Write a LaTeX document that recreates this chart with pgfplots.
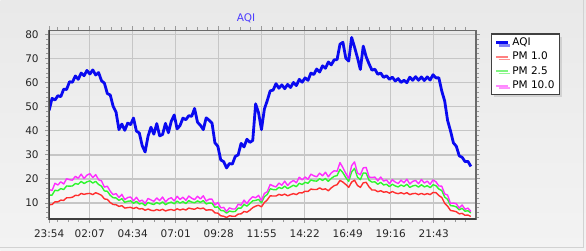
\documentclass[border=0pt]{standalone}
\usepackage{pgfplots}
\pgfplotsset{compat=1.18}
\usepackage{pgfplotstable}
\usepackage{fontspec}
\setmainfont{DejaVu Sans}
\usetikzlibrary{shadows}
\definecolor{aqiblue}{HTML}{0A0AF0}
\definecolor{pmred}{HTML}{FF2E2E}
\definecolor{pmgreen}{HTML}{2EF52E}
\definecolor{pmmag}{HTML}{FF2EFF}
\definecolor{lgred}{HTML}{FF8080}
\definecolor{lggreen}{HTML}{80F580}
\definecolor{lgmag}{HTML}{FF88FF}
\definecolor{titleblue}{HTML}{4B3BFF}
\definecolor{gridc}{HTML}{C6C6C6}
\definecolor{framec}{HTML}{6A6A6A}
\definecolor{outtop}{HTML}{E9E9E9}
\definecolor{outbot}{HTML}{F3F3F3}
\definecolor{intop}{HTML}{E8E8E8}
\definecolor{inbot}{HTML}{F8F8F8}
\pgfplotstableread{
t aqi pm1 pm25 pm10
0 48.5 9.3 13.3 15.6
10 53.5 9.4 13.3 15.2
20 52.8 10.5 15.3 18.2
30 54.6 10.5 15.1 17.5
40 54.2 11.2 16.0 18.8
50 57.3 11.1 15.6 17.9
60 57.2 12.2 17.1 20.1
70 60.4 12.2 17.0 19.7
80 60.2 12.4 17.1 19.5
90 62.8 13.2 18.1 21.1
100 61.4 13.1 17.8 20.3
110 64.0 14.0 19.0 22.0
120 62.9 13.6 18.1 20.2
130 65.1 13.9 18.8 21.6
140 63.6 14.0 19.2 22.2
150 65.3 13.5 18.3 20.6
160 63.2 14.3 19.0 21.8
170 64.2 13.8 17.7 19.7
180 60.8 13.2 17.0 19.2
190 59.8 11.7 15.0 16.6
200 55.5 11.5 14.9 17.0
210 54.9 10.2 13.2 14.9
220 50.2 9.4 12.2 13.5
230 47.8 9.3 12.1 13.9
240 40.5 8.6 11.1 12.3
250 42.8 8.9 11.8 13.6
260 40.2 7.9 10.3 11.4
270 43.2 8.1 10.7 12.3
280 42.6 8.2 10.9 12.5
290 45.3 7.7 9.9 10.9
300 39.9 8.2 10.7 12.4
310 39.1 7.5 9.6 10.7
320 33.8 7.7 9.9 11.2
330 31.2 7.0 8.9 9.8
340 37.8 7.5 10.2 11.9
350 41.5 7.0 9.7 11.3
360 38.6 6.8 9.4 10.7
370 43.0 7.3 10.2 12.1
380 37.9 6.9 9.6 11.0
390 38.5 7.4 10.5 12.5
400 43.1 6.7 9.3 10.5
410 39.2 7.1 10.0 11.7
420 44.0 7.3 10.4 12.2
430 46.6 6.9 9.7 10.9
440 40.8 7.6 10.8 12.8
450 42.2 7.1 10.0 11.5
460 45.3 7.5 10.6 12.4
470 44.6 7.1 9.8 11.1
480 46.3 7.9 11.0 12.9
490 46.0 7.6 10.4 12.0
500 49.3 7.4 10.1 11.4
510 43.6 8.0 10.9 12.8
520 42.3 7.6 10.3 11.7
530 40.5 7.9 11.0 13.0
540 45.4 7.0 9.6 10.8
550 44.4 7.2 10.0 11.6
560 43.2 7.1 9.9 11.6
570 35.0 5.9 8.2 9.2
580 33.6 5.8 8.4 10.2
590 27.9 4.7 6.9 8.0
600 27.2 4.5 6.8 8.2
610 24.6 4.0 5.8 6.5
620 26.4 4.7 6.7 8.0
630 26.2 4.5 6.4 7.5
640 29.4 4.5 6.5 7.5
650 30.0 5.4 7.9 9.5
660 34.8 5.5 7.9 9.1
670 33.3 6.5 9.4 11.2
680 36.5 6.2 8.7 9.8
690 35.2 7.0 9.8 11.5
700 36.0 8.1 10.9 12.6
710 51.2 8.7 11.1 12.2
720 47.5 9.1 11.5 13.2
730 40.5 8.4 10.1 11.0
740 49.0 10.2 12.6 14.0
750 52.6 11.3 13.6 14.7
760 56.6 13.0 15.9 17.7
770 56.9 12.9 15.6 17.1
780 59.6 12.9 15.5 16.7
790 57.7 13.6 16.5 18.3
800 59.1 13.2 16.0 17.4
810 57.5 13.7 17.0 19.1
820 59.3 13.0 16.0 17.3
830 58.0 13.5 16.7 18.6
840 60.1 13.9 17.4 19.4
850 58.8 13.5 16.8 18.4
860 61.4 14.3 18.2 20.7
870 60.2 14.2 17.7 19.6
880 62.0 14.9 18.6 20.8
890 61.0 14.8 18.2 19.9
900 64.0 15.8 19.6 22.0
910 63.4 15.6 19.2 21.3
920 65.7 15.6 19.1 20.9
930 64.4 16.3 20.1 22.4
940 67.0 15.6 19.4 21.3
950 66.0 15.9 20.2 22.8
960 68.6 15.1 19.0 20.9
970 67.4 16.3 20.2 22.5
980 69.5 17.2 21.1 23.4
990 69.6 17.6 21.4 23.2
1000 76.0 19.4 24.0 26.8
1010 76.8 18.7 22.6 24.7
1020 70.2 17.7 20.6 22.3
1030 69.0 16.5 19.0 20.2
1040 78.8 18.7 22.9 25.5
1050 74.8 19.5 24.4 27.1
1060 70.4 17.3 20.8 22.5
1070 65.5 16.5 19.7 21.7
1080 75.2 18.4 22.5 24.6
1090 70.8 18.6 22.4 24.8
1100 67.8 16.7 19.5 20.8
1110 65.2 15.4 18.7 20.6
1120 65.6 15.4 18.8 20.8
1130 63.5 14.7 17.8 19.2
1140 64.0 15.1 18.6 20.8
1150 62.2 14.5 17.5 19.1
1160 62.9 14.7 17.8 19.6
1170 61.4 14.1 16.8 18.0
1180 62.3 14.8 17.8 19.7
1190 60.7 14.2 17.1 18.7
1200 61.7 13.9 16.7 18.1
1210 60.1 14.3 17.5 19.5
1220 61.0 13.8 16.9 18.4
1230 60.0 14.3 17.8 19.9
1240 62.3 13.5 16.5 17.9
1250 61.0 13.9 17.1 19.0
1260 62.5 14.0 17.4 19.4
1270 61.0 13.5 16.6 18.0
1280 62.4 14.0 17.6 19.8
1290 60.9 13.5 16.7 18.3
1300 62.4 13.9 17.2 19.1
1310 61.1 13.5 16.4 17.8
1320 63.3 14.4 17.6 19.6
1330 62.0 14.3 17.2 18.8
1340 62.0 13.1 15.8 17.1
1350 56.5 12.3 15.2 17.0
1360 52.4 9.9 12.5 13.8
1370 44.3 8.7 11.5 13.3
1380 40.0 6.9 8.9 9.8
1390 35.0 6.7 8.8 10.0
1400 33.6 6.4 8.4 9.7
1410 29.6 5.5 7.2 7.9
1420 29.0 5.7 7.8 9.2
1430 27.2 4.9 6.6 7.4
1440 27.3 5.0 6.8 7.9
1450 25.2 4.4 5.9 6.5
}\aqidata
\begin{document}
\begin{tikzpicture}
\shade[top color=outtop, bottom color=outbot] (0pt,0pt) rectangle (586pt,250pt);
\draw[gray!35, line width=1pt] (583.5pt,250pt) -- (583.5pt,2.5pt) -- (0pt,2.5pt);
\node[text=titleblue, font=\fontsize{10.5}{12}\selectfont] at (245.8pt,232.5pt) {AQI};
\begin{axis}[
  at={(48.7pt,31.3pt)}, anchor=south west,
  width=427.3pt, height=188.7pt, scale only axis,
  xmin=0, xmax=1468, ymin=3.36, ymax=81.7,
  xtick={0,139.4,287.3,435.2,583.0,730.9,878.7,1026.6,1174.5,1322.3},
  xticklabels={23:54,02:07,04:34,07:01,09:28,11:55,14:22,16:49,19:16,21:43},
  minor xtick={28.5,65.5,102.4,176.4,213.3,250.3,324.3,361.2,398.2,472.2,509.1,546.1,620.0,657.0,694.0,767.9,804.8,841.8,915.7,952.6,989.6,1063.6,1100.5,1137.5,1211.5,1248.4,1285.4,1359.3,1396.2,1433.2},
  ytick={10,20,30,40,50,60,70,80},
  minor ytick={4,6,8,12,14,16,18,22,24,26,28,32,34,36,38,42,44,46,48,52,54,56,58,62,64,66,68,72,74,76,78},
  tick align=outside,
  major tick length=4pt, minor tick length=3pt,
  every tick/.style={draw=gray!80, line width=1pt},
  xmajorgrids, ymajorgrids,
  major grid style={draw=gridc, line width=1.3pt},
  axis line style={draw=framec, line width=1.6pt},
  axis background/.style={top color=intop, bottom color=inbot},
  tick label style={font=\fontsize{10.5}{12}\selectfont, text=black!85},
  /pgf/number format/assume math mode=true,
  yticklabel style={xshift=-3pt},
  xticklabel style={yshift=-3pt},
  legend style={at={(1.0351,0.984)}, anchor=north west,
    draw=black!75, line width=1.2pt, fill=white,
    drop shadow={shadow xshift=2.5pt, shadow yshift=-2.5pt, fill=gray!55},
    inner xsep=3pt, inner ysep=1.5pt,
    font=\fontsize{10.5}{12}\selectfont,
    nodes={inner xsep=2pt, inner ysep=2.35pt, text height=7.6pt, text depth=2pt},
    row sep=0pt, column sep=1pt},
  legend cell align=left,
  clip=true,
]
\addplot[aqiblue, line width=2.8pt, line join=round,
  legend image code/.code={\draw[aqiblue, line width=3pt] (0pt,0pt) -- (11.7pt,0pt);}]
  table[x=t, y=aqi] {\aqidata};
\addlegendentry{AQI}
\addplot[pmred, line width=1.4pt, line join=round,
  legend image code/.code={\draw[lgred, line width=2pt] (0pt,0pt) -- (11.7pt,0pt);}]
  table[x=t, y=pm1] {\aqidata};
\addlegendentry{PM 1.0}
\addplot[pmgreen, line width=1.4pt, line join=round,
  legend image code/.code={\draw[lggreen, line width=2pt] (0pt,0pt) -- (11.7pt,0pt);}]
  table[x=t, y=pm25] {\aqidata};
\addlegendentry{PM 2.5}
\addplot[pmmag, line width=1.4pt, line join=round,
  legend image code/.code={\draw[lgmag, line width=2pt] (0pt,0pt) -- (11.7pt,0pt);}]
  table[x=t, y=pm10] {\aqidata};
\addlegendentry{PM 10.0}
\draw[black!75, line width=1.8pt] (rel axis cs:0,1) -- (rel axis cs:0,0) -- (rel axis cs:1,0);
\end{axis}
\end{tikzpicture}
\end{document}
